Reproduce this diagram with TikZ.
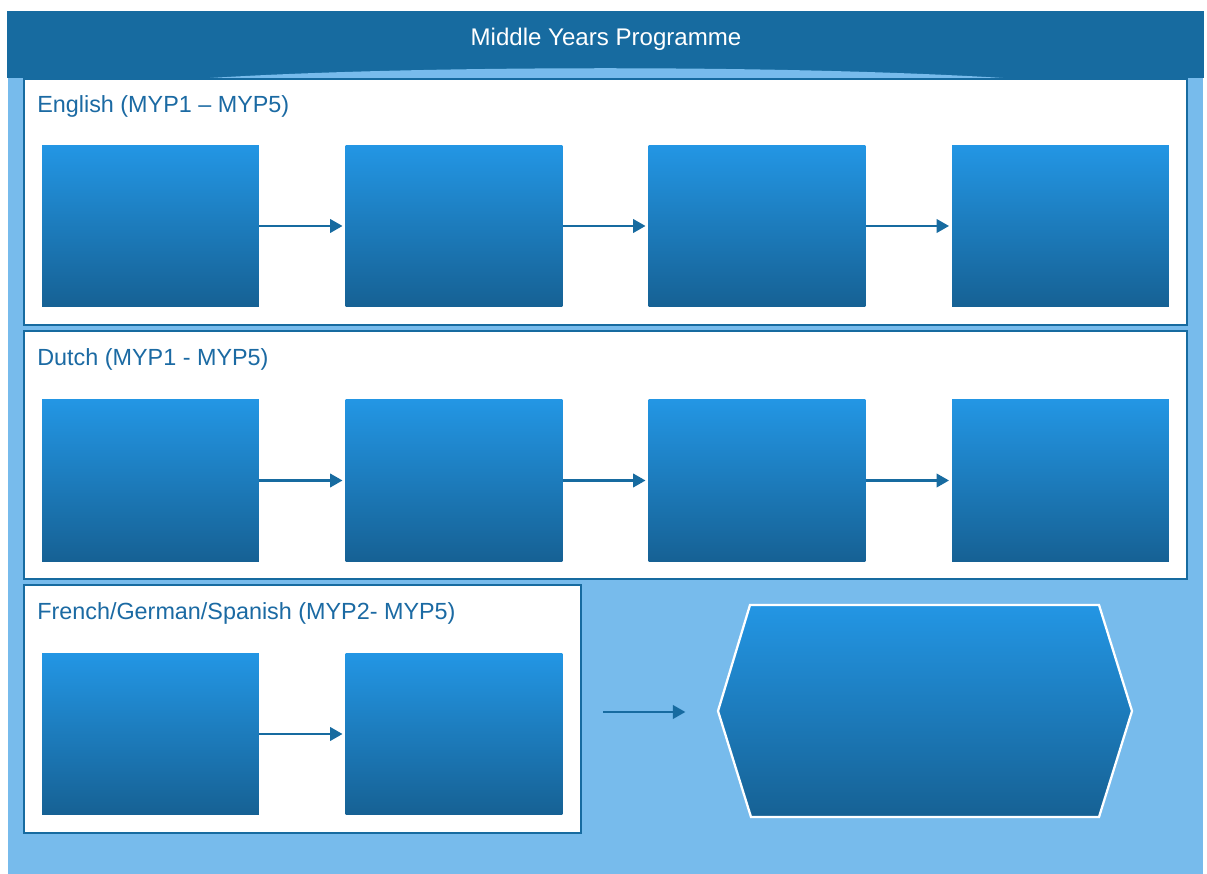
\documentclass[tikz,border=0pt]{standalone}
\usepackage{fontspec}
\setmainfont{Liberation Sans}
\usetikzlibrary{arrows.meta}

\definecolor{mypdark}{RGB}{23,107,160}
\definecolor{myplight}{RGB}{119,187,236}
\definecolor{myptop}{RGB}{35,150,228}
\definecolor{mypbottom}{RGB}{22,97,148}
\definecolor{myptext}{RGB}{27,106,163}

\tikzset{
  panel/.style={draw=mypdark, line width=1.3pt, fill=white, inner sep=0pt},
  unit/.style={top color=myptop, bottom color=mypbottom, inner sep=0pt,
    minimum width=4.34cm, minimum height=3.24cm},
  heading/.style={anchor=west, text=myptext, inner sep=0pt,
    font=\fontsize{13.3}{15}\selectfont},
  flow/.style={->, draw=mypdark, line width=1.4pt, shorten >=1.5pt},
}

\begin{document}
\begin{tikzpicture}[x=0.02cm, y=-0.02cm, >={Triangle[length=0.25cm,width=0.27cm]}]
  \useasboundingbox (0,0) rectangle (1207,874);
  \fill[myplight] (8,70) rectangle (1203,874);
  \fill[mypdark] (7,11) rectangle (1204,78);
  \fill[myplight] (210,78) .. controls (420,65) and (790,65) .. (1003,78) -- cycle;
  \node[text=white, font=\fontsize{13.7}{15}\selectfont] (title) at (606,39) {Middle Years Programme};

  % English
  \node[panel, minimum width=23.26cm, minimum height=4.92cm] (english) at (605.5,202) {};
  \node[heading] (englishlabel) at (37,106) {English (MYP1 – MYP5)};
  \node[unit] (e1) at (150.5,226) {};
  \node[unit] (e2) at (454,226) {};
  \node[unit] (e3) at (757,226) {};
  \node[unit] (e4) at (1060.5,226) {};
  \draw[flow] (e1) -- (e2);
  \draw[flow] (e2) -- (e3);
  \draw[flow] (e3) -- (e4);

  % Dutch
  \node[panel, minimum width=23.26cm, minimum height=4.96cm] (dutch) at (605.5,455) {};
  \node[heading] (dutchlabel) at (37,359) {Dutch (MYP1 - MYP5)};
  \node[unit] (d1) at (150.5,480.5) {};
  \node[unit] (d2) at (454,480.5) {};
  \node[unit] (d3) at (757,480.5) {};
  \node[unit] (d4) at (1060.5,480.5) {};
  \draw[flow] (d1) -- (d2);
  \draw[flow] (d2) -- (d3);
  \draw[flow] (d3) -- (d4);

  % French/German/Spanish
  \node[panel, minimum width=11.14cm, minimum height=4.96cm] (other) at (302.5,709) {};
  \node[heading] (otherlabel) at (37,613) {French/German/Spanish (MYP2- MYP5)};
  \node[unit] (f1) at (150.5,734) {};
  \node[unit] (f2) at (454,734) {};
  \draw[flow] (f1) -- (f2);

  \coordinate (from) at (603,712);
  \coordinate (to) at (688,712);
  \draw[flow] (from) -- (to);

  \shade[top color=myptop, bottom color=mypbottom, draw=white, line width=1.3pt]
    (718,711) -- (750,605) -- (1099,605) -- (1132,711) -- (1099,817) -- (751,817) -- cycle;
\end{tikzpicture}
\end{document}
